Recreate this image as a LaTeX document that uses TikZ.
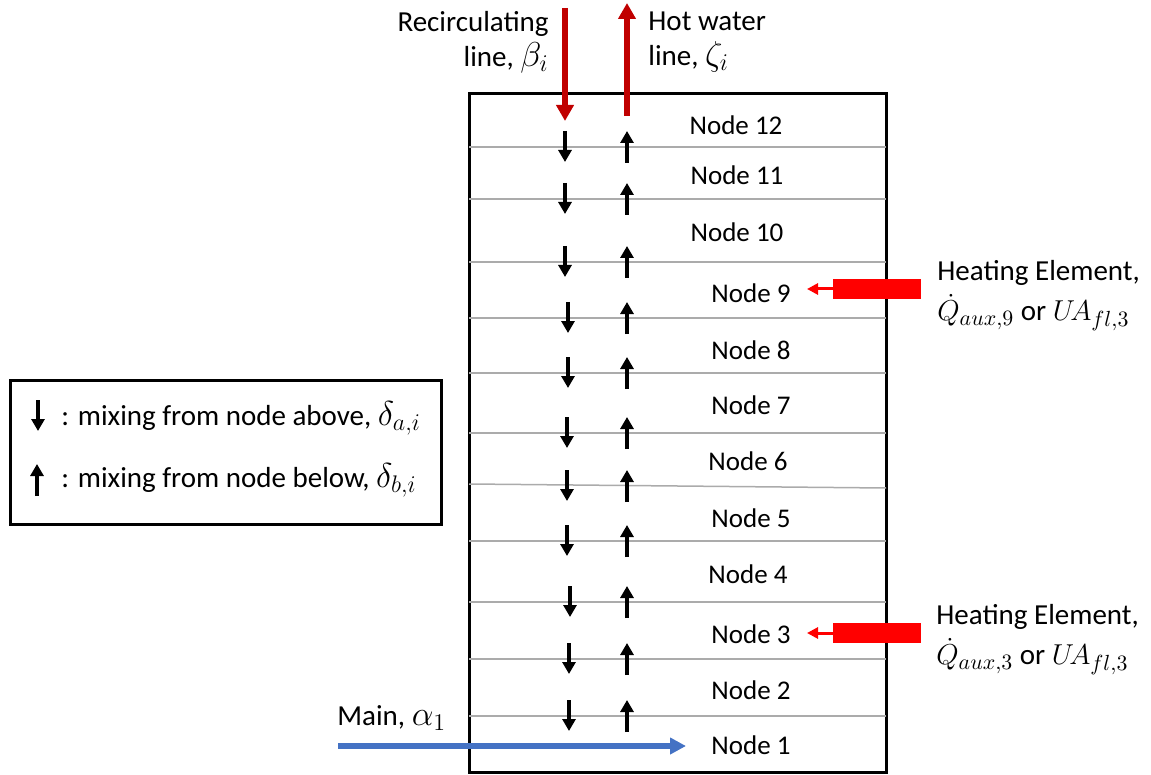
\documentclass[tikz,border=0pt]{standalone}
\usepackage{fontspec}
\setmainfont{Carlito}
\usetikzlibrary{arrows.meta}
\definecolor{darkred}{HTML}{C00000}
\definecolor{hotred}{HTML}{FF0000}
\definecolor{mainblue}{HTML}{4472C4}
\definecolor{sepgray}{HTML}{ABABAB}
\newcommand{\mth}[1]{{\fontsize{16.5}{17.5}\selectfont$#1$}}
\newcommand{\mths}[1]{{\fontsize{15.5}{17.5}\selectfont$#1$}}
\begin{document}
\begin{tikzpicture}[x=0.5pt,y=-0.5pt,
  txt/.style={inner sep=0pt,font=\fontsize{14.5}{17.5}\selectfont},
  nodelbl/.style={inner sep=0pt,font=\fontsize{13.5}{16}\selectfont},
  frame/.style={draw=black,line width=1.5pt},
  sep/.style={draw=sepgray,line width=0.75pt},
  mix/.style={draw=black,line width=1.8pt,-{Triangle[length=6pt,width=6.5pt]}},
  redflow/.style={draw=darkred,line width=2.6pt,-{Triangle[length=8pt,width=8.5pt]}},
  blueflow/.style={draw=mainblue,line width=2.6pt,-{Triangle[length=8pt,width=8pt]}},
  heat/.style={fill=hotred,inner sep=0pt,minimum width=44pt,minimum height=9.8pt},
  heatarrow/.style={draw=hotred,line width=1.5pt,-{Triangle[length=5.5pt,width=5.5pt]}}]
\useasboundingbox (0,0) rectangle (1151,775);

% tank
\draw[frame] (469,94) rectangle (886,772);
% separators
\foreach \y in {147,199,262,318,373,433,541,602,659,716}
  \draw[sep] (469,\y) -- (886,\y);
\draw[sep] (469,484) -- (886,488);

% node labels
\foreach \n/\x/\y in {12/736/125,11/737/175,10/737/232,9/751/293,8/751/350,7/751/405,6/748/461,5/751/518,4/748/574,3/751/634,2/751/690,1/751/745}
  \node[nodelbl] (n\n) at (\x,\y) {Node \n};

% mixing arrows
\foreach \y/\dx in {147/565,199/565,262/565,318/568,373/568,433/567,486/567,541/567,602/570,659/569,716/569}{
  \coordinate (da) at (\dx,\y-16);
  \coordinate (db) at (\dx,\y+15);
  \draw[mix] (da) -- (db);
  \coordinate (ua) at (627,\y+16);
  \coordinate (ub) at (627,\y-16);
  \draw[mix] (ua) -- (ub);
}

% recirculating and hot water lines
\coordinate (recTop) at (565,8);
\coordinate (recEnd) at (565,121);
\draw[redflow] (recTop) -- (recEnd);
\coordinate (hotBot) at (627,116);
\coordinate (hotTop) at (627,3);
\draw[redflow] (hotBot) -- (hotTop);
\node[txt,anchor=east,align=right] (rectxt) at (549,42) {Recirculating\\line, \mth{\beta_i}};
\node[txt,anchor=west,align=left] (hottxt) at (648,42) {Hot water\\line, \mth{\zeta_i}};

% heating elements
\node[heat] (he9) at (877,289) {};
\coordinate (he9tip) at (807,289);
\draw[heatarrow] (he9.west) -- (he9tip);
\node[txt,anchor=south west] (he9a) at (937,286) {Heating Element,};
\node[txt,anchor=north west] (he9b) at (937,294) {\mths{\dot{Q}_{aux,9}} or \mths{U\!A_{fl,3}}};
\node[heat] (he3) at (877,633) {};
\coordinate (he3tip) at (807,633);
\draw[heatarrow] (he3.west) -- (he3tip);
\node[txt,anchor=south west] (he3a) at (936,630) {Heating Element,};
\node[txt,anchor=north west] (he3b) at (936,638) {\mths{\dot{Q}_{aux,3}} or \mths{U\!A_{fl,3}}};

% main inlet
\coordinate (mainStart) at (338,746);
\coordinate (mainEnd) at (686,746);
\draw[blueflow] (mainStart) -- (mainEnd);
\node[txt,anchor=west] (maintxt) at (337,718) {Main, \mth{\alpha_1}};

% legend
\draw[frame] (10,380) rectangle (441,524);
\coordinate (lda) at (38,400);
\coordinate (ldb) at (38,431);
\draw[mix] (lda) -- (ldb);
\coordinate (lua) at (37,496);
\coordinate (lub) at (37,464);
\draw[mix] (lua) -- (lub);
\node[txt,anchor=west] (leg1) at (61,418) {: mixing from node above, \mth{\delta_{a,i}}};
\node[txt,anchor=west] (leg2) at (61,480) {: mixing from node below, \mth{\delta_{b,i}}};
\end{tikzpicture}
\end{document}
